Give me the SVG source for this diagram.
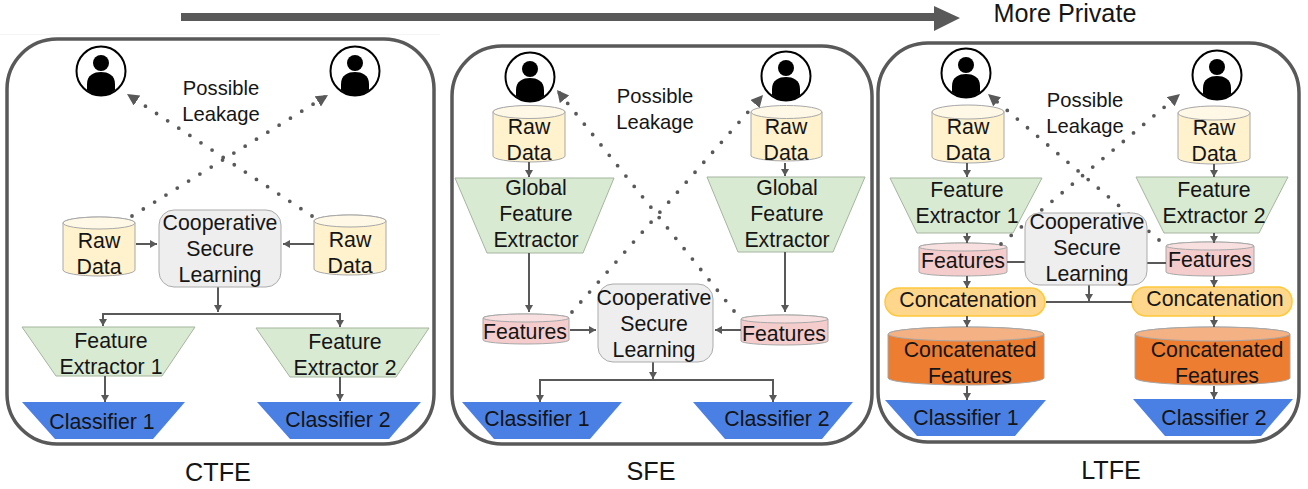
<svg xmlns="http://www.w3.org/2000/svg" width="1308" height="489" viewBox="0 0 1308 489">
<style>
text{font-family:"Liberation Sans",Arial,sans-serif;font-size:21.3px;fill:#151515;text-anchor:middle}
.pl{font-size:20.2px}
.cap{font-size:25.2px}
.panel{fill:#fff;stroke:#595959;stroke-width:3.5}
.cyl{stroke:#a8a8a8;stroke-width:1}
.raw{fill:#fff2cc}.rawt{fill:#fff8e6}
.fea{fill:#f4cccc}.feat{fill:#f9e0e0}
.con{fill:#ed7d31}.cont{fill:#f4b183}
.fe{fill:#d9ead3;stroke:#a5b5a0;stroke-width:1}
.cl{fill:#4a7fe3}
.csl{fill:#eeeeee;stroke:#ababab;stroke-width:1}
.pill{fill:#ffd78c;stroke:#ffc93c;stroke-width:1.5}
.ln{fill:none;stroke:#595959;stroke-width:2}
.ar{marker-end:url(#a)}
.dot{fill:none;stroke:#595959;stroke-width:3.8;stroke-linecap:round;stroke-dasharray:0 13.3;marker-end:url(#d)}
</style>
<defs>
<marker id="a" markerUnits="userSpaceOnUse" markerWidth="9" markerHeight="9" refX="7" refY="4" orient="auto"><path d="M0 0L7 4L0 8Z" fill="#595959"/></marker>
<marker id="d" markerUnits="userSpaceOnUse" markerWidth="14" markerHeight="14" refX="12" refY="6" orient="auto"><path d="M0 0L12 6L0 12Z" fill="#595959"/></marker>
<g id="person">
<circle r="24.5" fill="#fff" stroke="#000" stroke-width="2"/>
<circle cy="-8" r="8" fill="#000"/>
<path d="M-14 19V13C-14 4-7 1 0 1S14 4 14 13V19Q8 24.5 0 24.5T-14 19Z" fill="#000"/>
</g>
</defs>
<line x1="0" y1="34.500" x2="440" y2="34.500" stroke="#f5f5f5"/>
<g id="privacy-arrow">
<path d="M181 13H934V6L960 18L934 31V21H181Z" fill="#595959"/>
<text class="cap" x="1065" y="22">More Private</text>
</g>

<g id="panel-ctfe"><rect class="panel" x="7" y="39" width="427" height="405" rx="50"/><text class="cap" x="218" y="481">CTFE</text></g>
<g id="panel-sfe"><rect class="panel" x="452" y="46" width="420" height="398" rx="50"/><text class="cap" x="651" y="480">SFE</text></g>
<g id="panel-ltfe"><rect class="panel" x="878" y="43" width="421" height="399" rx="50"/><text class="cap" x="1111" y="479">LTFE</text></g>

<g id="c-user1"><use href="#person" x="101" y="71"/></g>
<g id="c-user2"><use href="#person" x="355" y="71"/></g>
<g id="c-leak"><text class="pl" x="221" y="95">Possible</text><text class="pl" x="221" y="121">Leakage</text></g>
<g id="c-raw1"><path class="cyl raw" d="M63 223V270A36 6 0 0 0 135 270V223A36 6 0 0 0 63 223Z"/><ellipse class="cyl rawt" cx="99" cy="223" rx="36" ry="6"/><text x="99" y="248">Raw</text><text x="99" y="274">Data</text></g>
<g id="c-raw2"><path class="cyl raw" d="M314 221V269A36 6 0 0 0 386 269V221A36 6 0 0 0 314 221Z"/><ellipse class="cyl rawt" cx="350" cy="221" rx="36" ry="6"/><text x="350" y="247">Raw</text><text x="350" y="273">Data</text></g>
<g id="c-fe1"><path class="fe" d="M22 327H195L162 376H56Z"/><text x="111" y="348">Feature</text><text x="111" y="374">Extractor 1</text></g>
<g id="c-fe2"><path class="fe" d="M256 328H429L396 377H290Z"/><text x="345" y="349">Feature</text><text x="345" y="375">Extractor 2</text></g>
<g id="c-cl1"><path class="cl" d="M22 402H185L153 439H55Z"/><text x="102" y="429">Classifier 1</text></g>
<g id="c-cl2"><path class="cl" d="M257 402H421L389 439H290Z"/><text x="338" y="427">Classifier 2</text></g>

<g id="s-user1"><use href="#person" x="530" y="77"/></g>
<g id="s-user2"><use href="#person" x="786" y="76"/></g>
<g id="s-leak"><text class="pl" x="655" y="103">Possible</text><text class="pl" x="655" y="129">Leakage</text></g>
<g id="s-raw1"><path class="cyl raw" d="M493 112V156A36 6 0 0 0 565 156V112A36 6 0 0 0 493 112Z"/><ellipse class="cyl rawt" cx="529" cy="112" rx="36" ry="6.500"/><text x="529" y="134">Raw</text><text x="529" y="160">Data</text></g>
<g id="s-raw2"><path class="cyl raw" d="M751 112V156A36 6 0 0 0 822 156V112A36 6 0 0 0 751 112Z"/><ellipse class="cyl rawt" cx="786.500" cy="112" rx="35.500" ry="6.500"/><text x="786" y="134">Raw</text><text x="786" y="160">Data</text></g>
<g id="s-gfe1"><path class="fe" d="M455 178H614L583 253H487Z"/><text x="536" y="195">Global</text><text x="536" y="221">Feature</text><text x="536" y="247">Extractor</text></g>
<g id="s-gfe2"><path class="fe" d="M707 177H865L833 252H738Z"/><text x="787" y="195">Global</text><text x="787" y="221">Feature</text><text x="787" y="247">Extractor</text></g>
<g id="s-fea1"><path class="cyl fea" d="M483 318V340A43 4 0 0 0 569 340V318A43 4 0 0 0 483 318Z"/><ellipse class="cyl feat" cx="526" cy="318" rx="43" ry="4"/><text x="525" y="339">Features</text></g>
<g id="s-fea2"><path class="cyl fea" d="M741 319V341A43.500 4 0 0 0 828 341V319A43.500 4 0 0 0 741 319Z"/><ellipse class="cyl feat" cx="784.500" cy="319" rx="43.500" ry="4"/><text x="784" y="341">Features</text></g>
<g id="s-cl1"><path class="cl" d="M462 402H622L590 439H494Z"/><text x="537" y="426">Classifier 1</text></g>
<g id="s-cl2"><path class="cl" d="M693 402H853L822 439H725Z"/><text x="777" y="426">Classifier 2</text></g>

<g id="l-user1"><use href="#person" x="966" y="73"/></g>
<g id="l-user2"><use href="#person" x="1217" y="75"/></g>
<g id="l-leak"><text class="pl" x="1085" y="107">Possible</text><text class="pl" x="1085" y="133">Leakage</text></g>
<g id="l-raw1"><path class="cyl raw" d="M932 112V157A36 6 0 0 0 1004 157V112A36 6 0 0 0 932 112Z"/><ellipse class="cyl rawt" cx="968" cy="112" rx="36" ry="7"/><text x="968" y="134">Raw</text><text x="968" y="160">Data</text></g>
<g id="l-raw2"><path class="cyl raw" d="M1178 113V158A36 6 0 0 0 1250 158V113A36 6 0 0 0 1178 113Z"/><ellipse class="cyl rawt" cx="1214" cy="113" rx="36" ry="7"/><text x="1214" y="135">Raw</text><text x="1214" y="161">Data</text></g>
<g id="l-fe1"><path class="fe" d="M890 178H1042L1013 233H917Z"/><text x="967" y="197">Feature</text><text x="967" y="223">Extractor 1</text></g>
<g id="l-fe2"><path class="fe" d="M1136 177H1288L1259 233H1164Z"/><text x="1214" y="197">Feature</text><text x="1214" y="223">Extractor 2</text></g>
<g id="l-fea1"><path class="cyl fea" d="M919 247V272A44 4 0 0 0 1007 272V247A44 4 0 0 0 919 247Z"/><ellipse class="cyl feat" cx="963" cy="247" rx="44" ry="4"/><text x="963" y="268">Features</text></g>
<g id="l-fea2"><path class="cyl fea" d="M1166 246V272A44 4 0 0 0 1254 272V246A44 4 0 0 0 1166 246Z"/><ellipse class="cyl feat" cx="1210" cy="246" rx="44" ry="4"/><text x="1210" y="267">Features</text></g>
<g id="l-cc1"><rect class="pill" x="885" y="288" width="160" height="28" rx="14"/><text x="968" y="307">Concatenation</text></g>
<g id="l-cc2"><rect class="pill" x="1132" y="287" width="160" height="29" rx="14"/><text x="1215" y="306">Concatenation</text></g>
<g id="l-cf1"><path class="cyl con" d="M888 334V378A78 7 0 0 0 1044 378V334A78 7 0 0 0 888 334Z"/><ellipse class="cyl cont" cx="966" cy="334" rx="78" ry="7"/><text x="970" y="357">Concatenated</text><text x="970" y="383">Features</text></g>
<g id="l-cf2"><path class="cyl con" d="M1135 334V378A77.500 7 0 0 0 1290 378V334A77.500 7 0 0 0 1135 334Z"/><ellipse class="cyl cont" cx="1212.500" cy="334" rx="77.500" ry="7"/><text x="1217" y="357">Concatenated</text><text x="1217" y="383">Features</text></g>
<g id="l-cl1"><path class="cl" d="M885 400H1046L1015 436H917Z"/><text x="966" y="425">Classifier 1</text></g>
<g id="l-cl2"><path class="cl" d="M1133 399H1293L1261 436H1165Z"/><text x="1214" y="425">Classifier 2</text></g>

<g id="connectors">
<path class="dot" d="M132 216L328 95"/>
<path class="dot" d="M312 216L127 94"/>
<path class="ln ar" d="M136 244H157"/>
<path class="ln ar" d="M314 244H283"/>
<path class="ln ar" d="M218 287V312"/>
<path class="ln ar" d="M218 314H103V326"/>
<path class="ln ar" d="M218 314H340V327"/>
<path class="ln ar" d="M105 376V402"/>
<path class="ln ar" d="M340 377V401"/>

<path class="dot" d="M572 312L763 95"/>
<path class="dot" d="M734 311L557 90"/>
<path class="ln ar" d="M529 162V177"/>
<path class="ln ar" d="M785 163V176"/>
<path class="ln ar" d="M529 253V312"/>
<path class="ln ar" d="M785 252V312"/>
<path class="ln ar" d="M570 330H596"/>
<path class="ln ar" d="M741 330H715"/>
<path class="ln ar" d="M653 362V379"/>
<path class="ln ar" d="M653 380H540V402"/>
<path class="ln ar" d="M653 380H773V402"/>

<path class="dot" d="M1001 244L1180 94"/>
<path class="dot" d="M1159 240L988 94"/>
<path class="ln ar" d="M967 163V177"/>
<path class="ln ar" d="M1214 164V177"/>
<path class="ln ar" d="M967 233V243"/>
<path class="ln ar" d="M1214 233V243"/>
<path class="ln" d="M1007 262H1025"/>
<path class="ln" d="M1147 263H1166"/>
<path class="ln ar" d="M967 276V288"/>
<path class="ln ar" d="M1214 276V287"/>
<path class="ln" d="M1046 302H1132"/>
<path class="ln ar" d="M1089 285V301"/>
<path class="ln ar" d="M967 316V327"/>
<path class="ln ar" d="M1214 316V327"/>
<path class="ln ar" d="M967 386V400"/>
<path class="ln ar" d="M1214 386V399"/>
</g>

<g id="c-csl"><rect class="csl" x="159" y="210" width="122" height="77" rx="15"/><text x="220" y="230">Cooperative</text><text x="220" y="256">Secure</text><text x="220" y="282">Learning</text></g>
<g id="s-csl"><rect class="csl" x="598" y="284" width="115" height="78" rx="15"/><text x="654" y="305">Cooperative</text><text x="654" y="331">Secure</text><text x="654" y="357">Learning</text></g>
<g id="l-csl"><rect class="csl" x="1025" y="213" width="122" height="72" rx="14"/><text x="1087" y="229">Cooperative</text><text x="1087" y="255">Secure</text><text x="1087" y="281">Learning</text></g>
</svg>
